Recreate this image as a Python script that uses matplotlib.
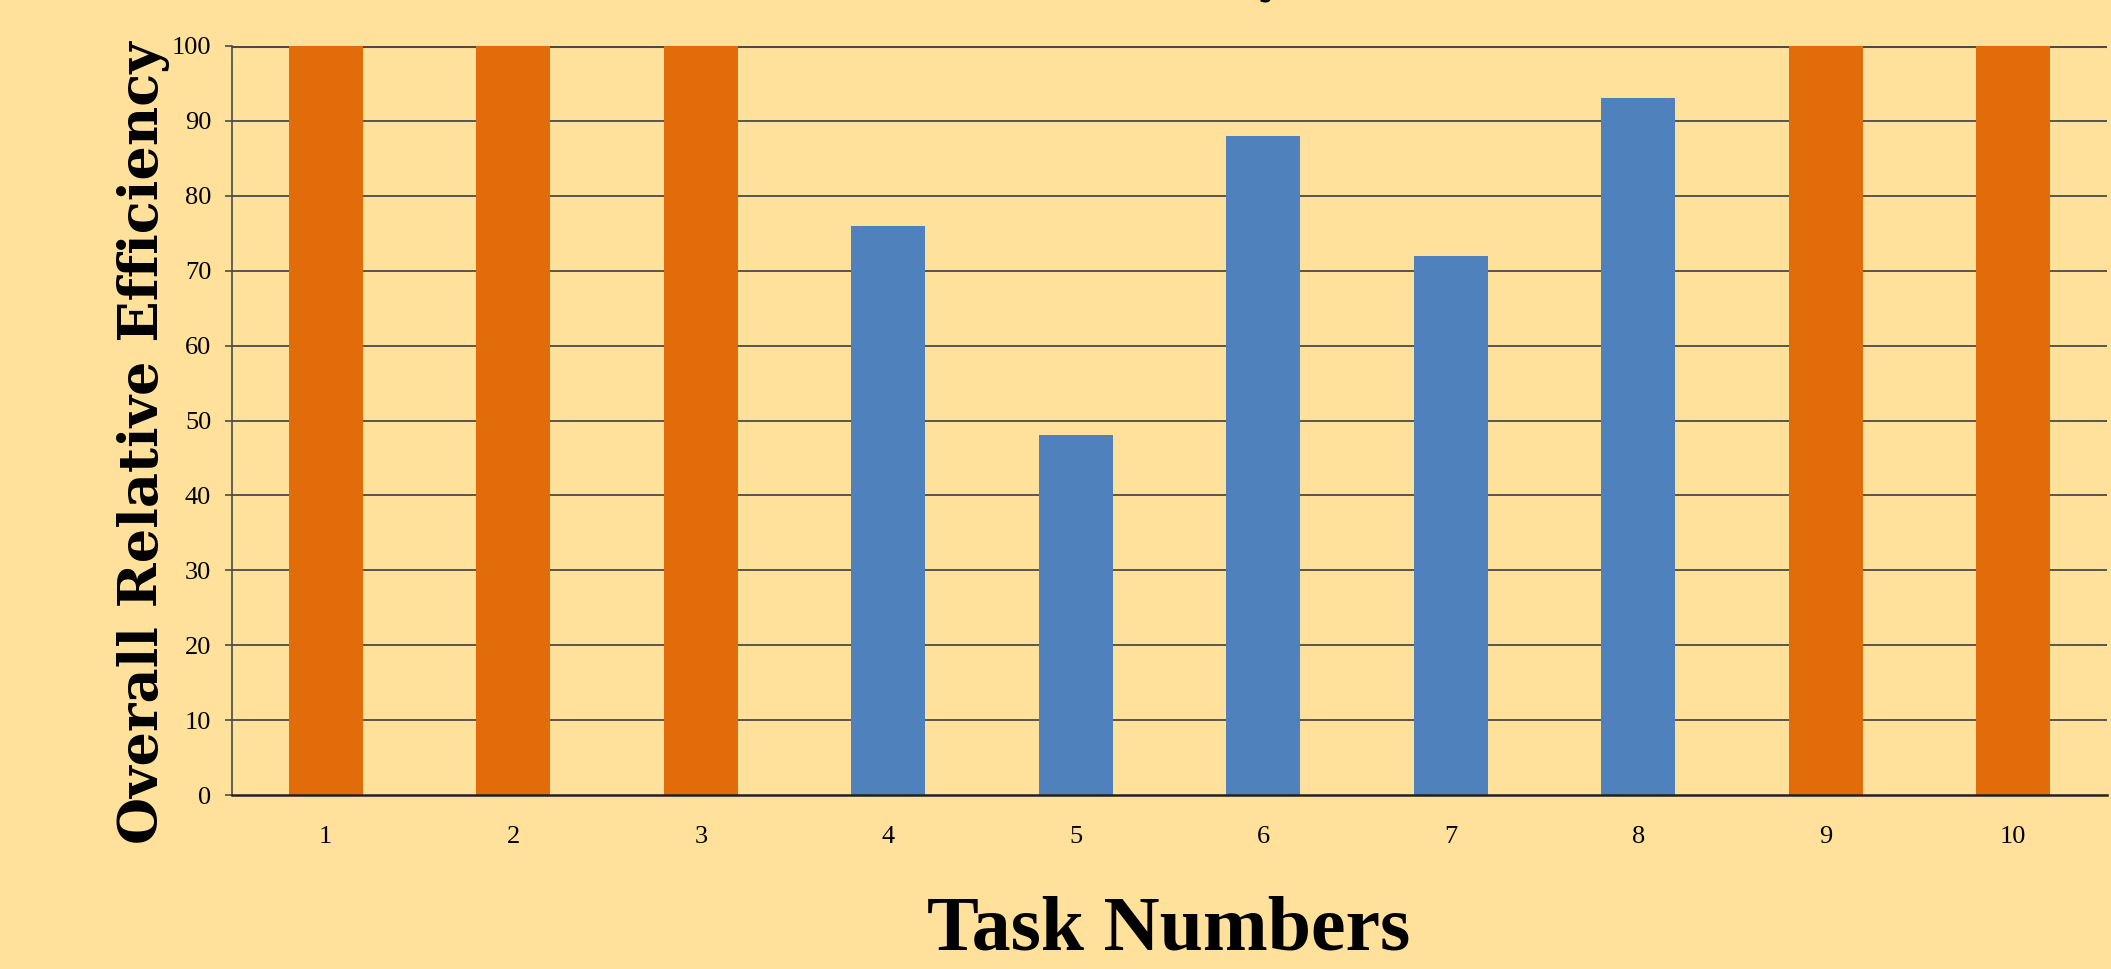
import matplotlib
matplotlib.use("Agg")
import matplotlib.pyplot as plt

tasks = [1, 2, 3, 4, 5, 6, 7, 8, 9, 10]
tick_labels = ["1", "2", "3", "4", "5", "6", "7", "8", "9", "10"]
efficiency = [100, 100, 100, 76, 48, 88, 72, 93, 100, 100]
bar_colors = ["#E36C0A", "#E36C0A", "#E36C0A", "#4F81BD", "#4F81BD",
              "#4F81BD", "#4F81BD", "#4F81BD", "#E36C0A", "#E36C0A"]
yticks = [0, 10, 20, 30, 40, 50, 60, 70, 80, 90, 100]

bg = "#FFE19B"
fig = plt.figure(figsize=(21.11, 9.69), dpi=100, facecolor=bg)
ax = fig.add_axes([232/2111, 1-795/969, (2107-232)/2111, (795-46)/969])
ax.set_facecolor(bg)

ax.set_axisbelow(True)
for y in yticks[1:]:
    ax.axhline(y, color="#4a4a4a", lw=1.3 if y < 100 else 2.2, zorder=0)

ax.bar(tasks, efficiency, width=0.395, color=bar_colors, zorder=2)

ax.set_xlim(0.5, 10.5)
ax.set_ylim(0, 100)
ax.set_yticks(yticks)
ax.set_yticklabels([str(v) for v in yticks], family="Liberation Serif", fontsize=19)
ax.set_xticks(tasks)
ax.set_xticklabels(tick_labels, family="Liberation Serif", fontsize=19)
ax.tick_params(axis="x", length=0, pad=22)
ax.tick_params(axis="y", length=5, width=1.2, color="#4a4a4a", pad=10)

for s in ["top", "right"]:
    ax.spines[s].set_visible(False)
ax.spines["left"].set_color("#4a4a4a")
ax.spines["left"].set_linewidth(1.2)
ax.spines["bottom"].set_color("#222222")
ax.spines["bottom"].set_linewidth(1.8)

fig.text(144/2111, 1-443/969, "Overall Relative Efficiency", rotation=90,
         ha="center", va="center", family="DejaVu Serif", weight="bold", fontsize=39)
fig.text(1169/2111, 0.003, "Task Numbers", ha="center", va="bottom",
         family="Liberation Serif", weight="bold", fontsize=56)
fig.text(1283/2111, 1.0075, "Relative Efficiency", ha="right", va="baseline",
         family="DejaVu Serif", weight="bold", fontsize=30)

fig.savefig("out.png", dpi=100, facecolor=bg)
